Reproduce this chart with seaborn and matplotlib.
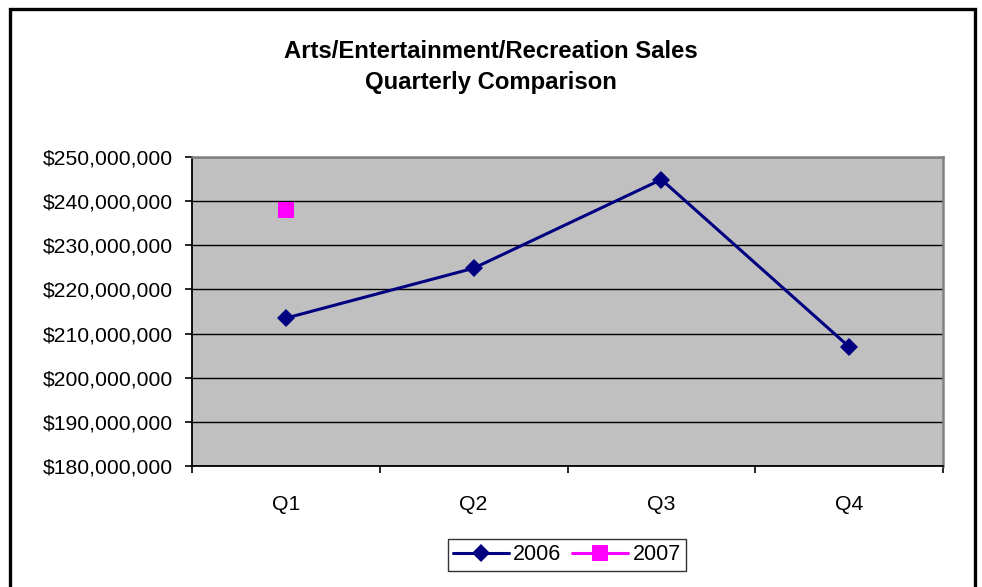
import matplotlib
matplotlib.use("Agg")
import matplotlib.pyplot as plt
from matplotlib.patches import Rectangle
from matplotlib.lines import Line2D
from matplotlib.ticker import FuncFormatter
import numpy as np
import pandas as pd
import seaborn as sns

quarters = ["Q1", "Q2", "Q3", "Q4"]
sales_2006 = [213.5e6, 224.8e6, 244.9e6, 207.0e6]
sales_2007 = [238.0e6, np.nan, np.nan, np.nan]
years = ["2006", "2007"]
y_ticks = [180e6, 190e6, 200e6, 210e6, 220e6, 230e6, 240e6, 250e6]

df = pd.DataFrame({
    "quarter": quarters * 2,
    "year": [years[0]] * 4 + [years[1]] * 4,
    "sales": sales_2006 + sales_2007,
})

sns.set_style("white")
plt.rcParams["font.family"] = ["Liberation Sans", "DejaVu Sans"]
plt.rcParams["text.color"] = "black"
plt.rcParams["xtick.color"] = "black"
plt.rcParams["ytick.color"] = "black"

fig = plt.figure(figsize=(9.82, 5.87), dpi=100)
ax = fig.add_axes([192 / 982, 1 - 466 / 587, (943 - 192) / 982, (466 - 157) / 587])
ax.set_facecolor("#C0C0C0")

palette = {"2006": "#000080", "2007": "#FF00FF"}
sns.lineplot(
    data=df, x="quarter", y="sales", hue="year", style="year",
    markers={"2006": "D", "2007": "s"}, dashes=False, palette=palette,
    linewidth=2.2, markersize=9.5, markeredgewidth=0, ax=ax, legend=False,
    sort=False,
)
# the lone 2007 point uses a larger square
for ln in ax.get_lines():
    if str(ln.get_color()).upper() == "#FF00FF":
        ln.set_markersize(11)

ax.set_ylim(180e6, 250e6)
ax.set_yticks(y_ticks)
ax.yaxis.set_major_formatter(FuncFormatter(lambda v, p: f"${v:,.0f}"))
ax.set_xlim(-0.5, 3.5)
ax.set_xticks([-0.5, 0.5, 1.5, 2.5, 3.5])
ax.set_xticklabels([])
ax.set_xticks(range(len(quarters)), minor=True)
ax.set_xticklabels(quarters, minor=True)
ax.tick_params(axis="x", which="major", direction="out", length=5, width=1.2, color="black", bottom=True)
ax.tick_params(axis="x", which="minor", length=0, pad=21, labelsize=15.3, labelcolor="black")
ax.tick_params(axis="y", direction="out", length=5, width=1.2, color="black", left=True, pad=9,
               labelsize=15.2, labelcolor="black")
ax.set_xlabel("")
ax.set_ylabel("")

ax.grid(axis="y", color="black", linewidth=1.0)
ax.set_axisbelow(True)
for side in ("left", "bottom"):
    ax.spines[side].set_color("black")
    ax.spines[side].set_linewidth(1.3)
for side in ("top", "right"):
    ax.spines[side].set_color("#808080")
    ax.spines[side].set_linewidth(1.8)

fig.text(0.5, 1 - 52 / 587, "Arts/Entertainment/Recreation Sales", ha="center", va="center",
         fontsize=17.2, fontweight="bold", color="black")
fig.text(0.5, 1 - 83 / 587, "Quarterly Comparison", ha="center", va="center",
         fontsize=17.2, fontweight="bold", color="black")

handles = [
    Line2D([], [], color=palette["2006"], marker="D", markersize=9.5, linewidth=2.2, markeredgewidth=0),
    Line2D([], [], color=palette["2007"], marker="s", markersize=11, linewidth=2.2, markeredgewidth=0),
]
leg = fig.legend(handles, years, loc="center", bbox_to_anchor=(567 / 982, 1 - 555 / 587),
                 ncol=2, frameon=True, fancybox=False, fontsize=15.5, handlelength=2.6,
                 columnspacing=0.5, handletextpad=0.2, borderpad=0.25, borderaxespad=0)
leg.get_frame().set_edgecolor("black")
leg.get_frame().set_linewidth(1.0)
for t in leg.get_texts():
    t.set_color("black")

# outer chart frame
fig.patches.append(Rectangle((9.5 / 982, -0.05), (974.5 - 9.5) / 982, 1 - 8.5 / 587 + 0.05,
                             transform=fig.transFigure, fill=False, edgecolor="black",
                             linewidth=2.4, clip_on=False))

fig.savefig("out.png", dpi=100)
